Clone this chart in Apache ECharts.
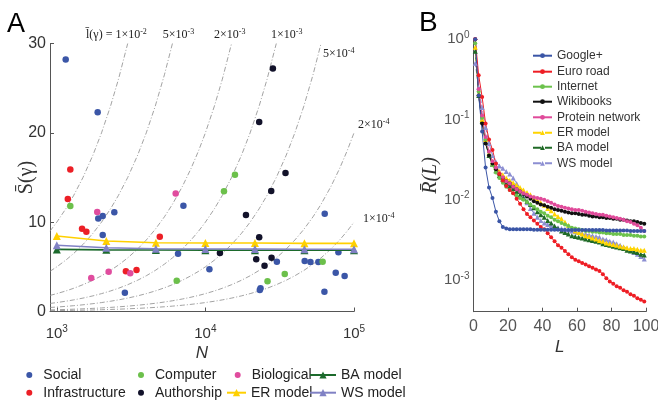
<!DOCTYPE html>
<html><head><meta charset="utf-8">
<script src="https://cdn.jsdelivr.net/npm/echarts@6.0.0/dist/echarts.min.js"></script>
<style>html,body{margin:0;padding:0;background:#fff}#c{width:658px;height:403px}</style>
</head><body><div id="c"></div>
<script>
// ---------- Panel A data: network size N and mean S ----------
const socialN = [1148, 1884, 1901, 2037, 2438, 2037, 2871, 7112, 6546, 10641, 30269, 23496, 23230, 63533, 46559, 50933, 57544, 78524, 75336, 86497, 63241];
const socialS = [28.2, 22.3, 10.4, 10.7, 11.1, 8.57, 2.1, 11.85, 6.47, 4.72, 5.58, 2.6, 2.42, 10.95, 5.65, 5.54, 5.54, 6.63, 4.35, 3.98, 2.22];
const infraN = [1233, 1186, 1479, 1581, 4932, 2917, 3440];
const infraS = [15.9, 12.6, 9.27, 8.94, 8.38, 4.5, 4.65];
const compN = [1233, 6412, 13335, 15812, 26182, 34198, 61518];
const compS = [11.8, 3.45, 13.46, 15.3, 3.38, 4.2, 5.58];
const authN = [28445, 23014, 34594, 27733, 18750, 23014, 12531, 21979, 27861, 25003];
const authS = [27.2, 21.2, 15.5, 13.5, 10.8, 8.3, 6.55, 5.85, 6.03, 5.13];
const bioN = [1871, 1706, 2234, 3119, 6310];
const bioS = [11.14, 3.75, 4.46, 4.28, 13.2];
const modelN = [1000, 2154, 4642, 10000, 21544, 46416, 100000];
const erS = [8.45, 7.9, 7.7, 7.67, 7.67, 7.63, 7.63];
const wsS = [7.41, 7.14, 7.03, 7.0, 7.0, 6.97, 6.97];
const baS = [6.95, 6.9, 6.88, 6.87, 6.86, 6.85, 6.85];
// iso-lines of l(γ) = S / N
const isoL = [1e-2, 5e-3, 2e-3, 1e-3, 5e-4, 2e-4, 1e-4];
const isoLabels = ['l\u0304(\u03b3) = 1\u00d710|-2', '5\u00d710|-3', '2\u00d710|-3', '1\u00d710|-3', '5\u00d710|-4', '2\u00d710|-4', '1\u00d710|-4'];
const isoN = [900, 1000, 1150, 1300, 1500, 1750, 2000, 2300, 2600, 3000, 3500, 4000, 4600, 5300, 6000, 7000, 8000, 9000, 10000, 11500, 13000, 15000, 17500, 20000, 23000, 26000, 30000, 35000, 40000, 46000, 53000, 60000, 70000, 80000, 90000, 100000];

// ---------- Panel B data: log10 R(L) at L = 1,3,...,99 ----------
const Lvals = [1,3,5,7,9,11,13,15,17,19,21,23,25,27,29,31,33,35,37,39,41,43,45,47,49,51,53,55,57,59,61,63,65,67,69,71,73,75,77,79,81,83,85,87,89,91,93,95,97,99];
const googleLogR = [0,-0.70,-1.15,-1.60,-1.85,-1.98,-2.15,-2.27,-2.34,-2.36,
 -2.37,-2.37,-2.37,-2.37,-2.37,-2.37,-2.37,-2.375,-2.375,-2.375,
 -2.375,-2.375,-2.375,-2.375,-2.375,-2.38,-2.38,-2.38,-2.38,-2.38,
 -2.38,-2.38,-2.38,-2.38,-2.38,-2.38,-2.38,-2.38,-2.385,-2.385,
 -2.385,-2.385,-2.385,-2.385,-2.385,-2.39,-2.39,-2.39,-2.39,-2.39];
const euroLogR = [0,-0.45,-0.72,-1.05,-1.25,-1.38,-1.55,-1.68,-1.76,-1.83,
 -1.88,-1.92,-1.99,-2.05,-2.12,-2.18,-2.22,-2.26,-2.30,-2.34,
 -2.37,-2.42,-2.47,-2.52,-2.57,-2.60,-2.64,-2.68,-2.72,-2.75,
 -2.77,-2.79,-2.81,-2.83,-2.85,-2.87,-2.89,-2.93,-2.98,-3.02,
 -3.05,-3.08,-3.10,-3.13,-3.15,-3.18,-3.20,-3.23,-3.25,-3.27];
const internetLogR = [-0.05,-0.65,-0.98,-1.25,-1.45,-1.57,-1.66,-1.73,-1.79,-1.84,
 -1.88,-1.92,-1.95,-1.98,-2.00,-2.03,-2.06,-2.09,-2.12,-2.15,
 -2.17,-2.20,-2.22,-2.25,-2.27,-2.29,-2.31,-2.33,-2.35,-2.36,
 -2.37,-2.38,-2.39,-2.39,-2.40,-2.40,-2.41,-2.41,-2.42,-2.42,
 -2.43,-2.43,-2.43,-2.44,-2.44,-2.44,-2.45,-2.45,-2.46,-2.46];
const wikiLogR = [0,-0.70,-1.05,-1.30,-1.45,-1.55,-1.62,-1.68,-1.73,-1.77,
 -1.80,-1.84,-1.87,-1.90,-1.93,-1.96,-1.99,-2.02,-2.04,-2.06,
 -2.07,-2.09,-2.10,-2.12,-2.13,-2.14,-2.15,-2.16,-2.17,-2.17,
 -2.18,-2.19,-2.19,-2.20,-2.21,-2.21,-2.22,-2.22,-2.23,-2.23,
 -2.24,-2.24,-2.25,-2.25,-2.26,-2.27,-2.27,-2.28,-2.29,-2.30];
const proteinLogR = [0,-0.62,-0.95,-1.22,-1.40,-1.52,-1.60,-1.67,-1.72,-1.77,
 -1.80,-1.84,-1.87,-1.90,-1.92,-1.94,-1.96,-1.97,-1.98,-1.99,
 -2.00,-2.02,-2.04,-2.06,-2.08,-2.09,-2.10,-2.11,-2.12,-2.13,
 -2.13,-2.14,-2.15,-2.16,-2.17,-2.18,-2.19,-2.19,-2.20,-2.21,
 -2.22,-2.23,-2.24,-2.25,-2.27,-2.28,-2.30,-2.32,-2.35,-2.39];
const erLogR = [-0.10,-0.68,-1.00,-1.25,-1.42,-1.53,-1.60,-1.65,-1.69,-1.73,
 -1.76,-1.79,-1.82,-1.85,-1.88,-1.91,-1.94,-1.97,-2.00,-2.04,
 -2.07,-2.11,-2.14,-2.18,-2.21,-2.24,-2.28,-2.32,-2.36,-2.39,
 -2.41,-2.43,-2.45,-2.46,-2.48,-2.49,-2.51,-2.52,-2.54,-2.55,
 -2.56,-2.57,-2.58,-2.59,-2.60,-2.61,-2.61,-2.62,-2.63,-2.63];
const baLogR = [-0.15,-0.70,-1.02,-1.28,-1.45,-1.56,-1.64,-1.70,-1.75,-1.80,
 -1.83,-1.86,-1.90,-1.94,-1.98,-2.02,-2.06,-2.10,-2.15,-2.19,
 -2.22,-2.26,-2.29,-2.33,-2.36,-2.39,-2.41,-2.43,-2.45,-2.46,
 -2.47,-2.48,-2.49,-2.50,-2.51,-2.52,-2.53,-2.55,-2.56,-2.57,
 -2.58,-2.59,-2.60,-2.61,-2.63,-2.64,-2.65,-2.66,-2.68,-2.69];
const wsLogR = [-0.30,-0.60,-0.85,-1.10,-1.30,-1.45,-1.53,-1.58,-1.61,-1.65,
 -1.68,-1.73,-1.80,-1.88,-1.96,-2.04,-2.11,-2.17,-2.22,-2.26,
 -2.29,-2.31,-2.33,-2.34,-2.35,-2.36,-2.37,-2.38,-2.39,-2.40,
 -2.41,-2.42,-2.43,-2.44,-2.45,-2.46,-2.47,-2.49,-2.50,-2.52,
 -2.53,-2.55,-2.57,-2.59,-2.61,-2.63,-2.66,-2.68,-2.71,-2.74];

// ---------- build ----------
const SANS = 'Liberation Sans, Arial, sans-serif';
const SERIF = 'Liberation Serif, DejaVu Serif, serif';
const zip = (a, b) => a.map((v, i) => [v, b[i]]);

function powLabel(v) {
  const e = Math.log10(v), r = Math.round(e);
  if (Math.abs(e - r) > 1e-6) return '';
  return '{b|10}{s|' + r + '}';
}
function powRich(color, fs, sfs) {
  return {
    b: {fontSize: fs, fontFamily: SANS, color: color, lineHeight: fs + 3},
    s: {fontSize: sfs, fontFamily: SANS, color: color, verticalAlign: 'top', lineHeight: sfs + 1}
  };
}

const series = [];
// iso-lines
isoL.forEach((l) => {
  const pts = isoN.filter(n => l * n <= 30).map(n => [n, l * n]);
  if (30 / l <= 100000) pts.push([30 / l, 30]);
  series.push({type: 'line', xAxisIndex: 0, yAxisIndex: 0, data: pts, symbol: 'none', silent: true,
    lineStyle: {color: '#8c8c8c', width: 0.8, type: [5, 2, 1, 2]}, z: 1});
});
const scatterDefs = [
  ['Social', socialN, socialS, '#3b56a7'],
  ['Infrastructure', infraN, infraS, '#ec1f26'],
  ['Computer', compN, compS, '#6cc04b'],
  ['Authorship', authN, authS, '#12122a'],
  ['Biological', bioN, bioS, '#e04c9e']
];
scatterDefs.forEach(d => series.push({name: d[0], type: 'scatter', xAxisIndex: 0, yAxisIndex: 0,
  data: zip(d[1], d[2]), symbolSize: 6.5, itemStyle: {color: d[3], opacity: 1}, z: 3}));
const modelDefs = [
  ['BA model', baS, '#1c6a2c'],
  ['ER model', erS, '#ffd000'],
  ['WS model', wsS, '#8081c4']
];
modelDefs.forEach(d => series.push({name: d[0], type: 'line', xAxisIndex: 0, yAxisIndex: 0,
  data: zip(modelN, d[1]), symbol: 'triangle', symbolSize: 8, itemStyle: {color: d[2]},
  lineStyle: {color: d[2], width: 1.6}, z: 4}));

const bDefs = [
  ['WS model (B)', wsLogR, '#8c8ed2', 'triangle', true],
  ['BA model (B)', baLogR, '#1f6a26', 'triangle', true],
  ['ER model (B)', erLogR, '#ffd400', 'triangle', true],
  ['Internet', internetLogR, '#6cc24c', 'circle', false],
  ['Wikibooks', wikiLogR, '#111111', 'circle', false],
  ['Protein network', proteinLogR, '#e04a9a', 'circle', false],
  ['Euro road', euroLogR, '#ee1d24', 'circle', false],
  ['Google+', googleLogR, '#3a55a6', 'circle', false]
];
bDefs.forEach(d => series.push({name: d[0], type: 'line', xAxisIndex: 1, yAxisIndex: 1,
  data: Lvals.map((L, i) => [L, Math.pow(10, d[1][i])]),
  symbol: d[3], symbolSize: d[3] === 'triangle' ? 5 : 4, itemStyle: {color: d[2]},
  lineStyle: {color: d[2], width: 1, type: d[4] ? 'dashed' : 'solid'}, z: 3}));

// legends
const legendsA = [
  ['Social', 26.3, 375, 'circle'], ['Computer', 138, 375, 'circle'], ['Biological', 234.7, 375, 'circle'],
  ['BA model', 309, 375, null], ['Infrastructure', 26.3, 392.7, 'circle'], ['Authorship', 138, 392.7, 'circle'],
  ['ER model', 226, 392.7, null], ['WS model', 309, 392.7, null]
];
const legends = legendsA.map(g => ({
  data: [g[0]], left: g[1], top: g[2] - 7, orient: 'horizontal', padding: 0,
  itemWidth: g[3] ? 18 : (g[0] === 'ER model' ? 19 : 26), itemHeight: g[3] ? 6 : 9,
  icon: g[3] || undefined, selectedMode: false,
  textStyle: {fontSize: 14, fontFamily: SANS, color: '#222', lineHeight: 14}
}));
const legendsB = ['Google+', 'Euro road', 'Internet', 'Wikibooks', 'Protein network', 'ER model (B)', 'BA model (B)', 'WS model (B)'];
const legendBY = [55.7, 71.7, 86.7, 101.7, 117.3, 132.7, 147.7, 163.3];
legendsB.forEach((n, i) => legends.push({
  data: [n], left: 532, top: legendBY[i] - 6, padding: 0, itemWidth: 19, itemHeight: 6, selectedMode: false,
  formatter: s => s.replace(' (B)', ''),
  textStyle: {fontSize: 12, fontFamily: SANS, color: '#333', lineHeight: 12}
}));

// iso labels (positions are layout)
const isoPos = [[86, 35], [162.7, 35], [214, 35], [271, 35], [323, 54.3], [358, 125], [363, 219]];
const graphics = isoLabels.map((t, i) => {
  const p = t.split('|');
  return {type: 'text', x: isoPos[i][0], y: isoPos[i][1], silent: true, z: 10,
    style: {text: '{m|' + p[0] + '}{s|' + p[1] + '}', verticalAlign: 'middle', align: 'left',
      rich: {m: {fontSize: 12, fontFamily: SERIF, fill: '#222', lineHeight: 14},
             s: {fontSize: 8, fontFamily: SERIF, fill: '#222', verticalAlign: 'top', lineHeight: 9}}}};
});
graphics.push({type: 'text', x: 7, y: 25, style: {text: 'A', fontSize: 27, fontFamily: SANS, fill: '#000', verticalAlign: 'middle'}});
graphics.push({type: 'text', x: 419, y: 23, style: {text: 'B', fontSize: 28, fontFamily: SANS, fill: '#000', verticalAlign: 'middle'}});

const axisLine = {show: true, lineStyle: {color: '#555', width: 1}};
const option = {
  animation: false,
  backgroundColor: '#fff',
  grid: [
    {left: 50, width: 304, top: 43.5, height: 268, outerBoundsMode: 'none', containLabel: false},
    {left: 473.5, width: 172.5, top: 39.3, height: 272.4, outerBoundsMode: 'none', containLabel: false}
  ],
  xAxis: [
    {type: 'log', logBase: 10, gridIndex: 0, min: 900, max: 100000, axisLine: axisLine,
     axisTick: {inside: true, length: 4, lineStyle: {color: '#555'}}, splitLine: {show: false}, minorTick: {show: false},
     axisLabel: {formatter: powLabel, margin: 13, rich: powRich('#333', 15, 10)},
     name: 'N', nameLocation: 'middle', nameGap: 33, nameMoveOverlap: false,
     nameTextStyle: {fontSize: 17, fontStyle: 'italic', fontFamily: SANS, color: '#333'}},
    {type: 'value', gridIndex: 1, min: 0, max: 100, interval: 20, axisLine: axisLine,
     axisTick: {inside: true, length: 4, lineStyle: {color: '#555'}}, splitLine: {show: false},
     axisLabel: {fontSize: 16, fontFamily: SANS, color: '#555', margin: 7},
     name: 'L', nameLocation: 'middle', nameGap: 27, nameMoveOverlap: false,
     nameTextStyle: {fontSize: 17, fontStyle: 'italic', fontFamily: SANS, color: '#333'}}
  ],
  yAxis: [
    {type: 'value', gridIndex: 0, min: 0, max: 30, interval: 10, axisLine: axisLine,
     axisTick: {inside: true, length: 4, lineStyle: {color: '#555'}}, splitLine: {show: false},
     axisLabel: {fontSize: 16, fontFamily: SANS, color: '#333', margin: 4},
     name: 'S\u0304(\u03b3)', nameLocation: 'middle', nameGap: 13, nameRotate: 90, nameMoveOverlap: false,
     nameTextStyle: {fontSize: 20, fontFamily: SERIF, color: '#333'}},
    {type: 'log', logBase: 10, gridIndex: 1, min: 0.0004, max: 1, axisLine: axisLine,
     axisTick: {show: false}, splitLine: {show: false}, minorTick: {show: false},
     axisLabel: {formatter: powLabel, margin: 4, rich: powRich('#555', 15, 10)},
     name: 'R\u0304(L)', nameLocation: 'middle', nameGap: 33, nameRotate: 90, nameMoveOverlap: false,
     nameTextStyle: {fontSize: 20, fontStyle: 'italic', fontFamily: SERIF, color: '#333'}}
  ],
  legend: legends,
  graphic: graphics,
  series: series
};
const chart = echarts.init(document.getElementById('c'), null, {renderer: 'canvas'});
chart.setOption(option);
</script></body></html>
